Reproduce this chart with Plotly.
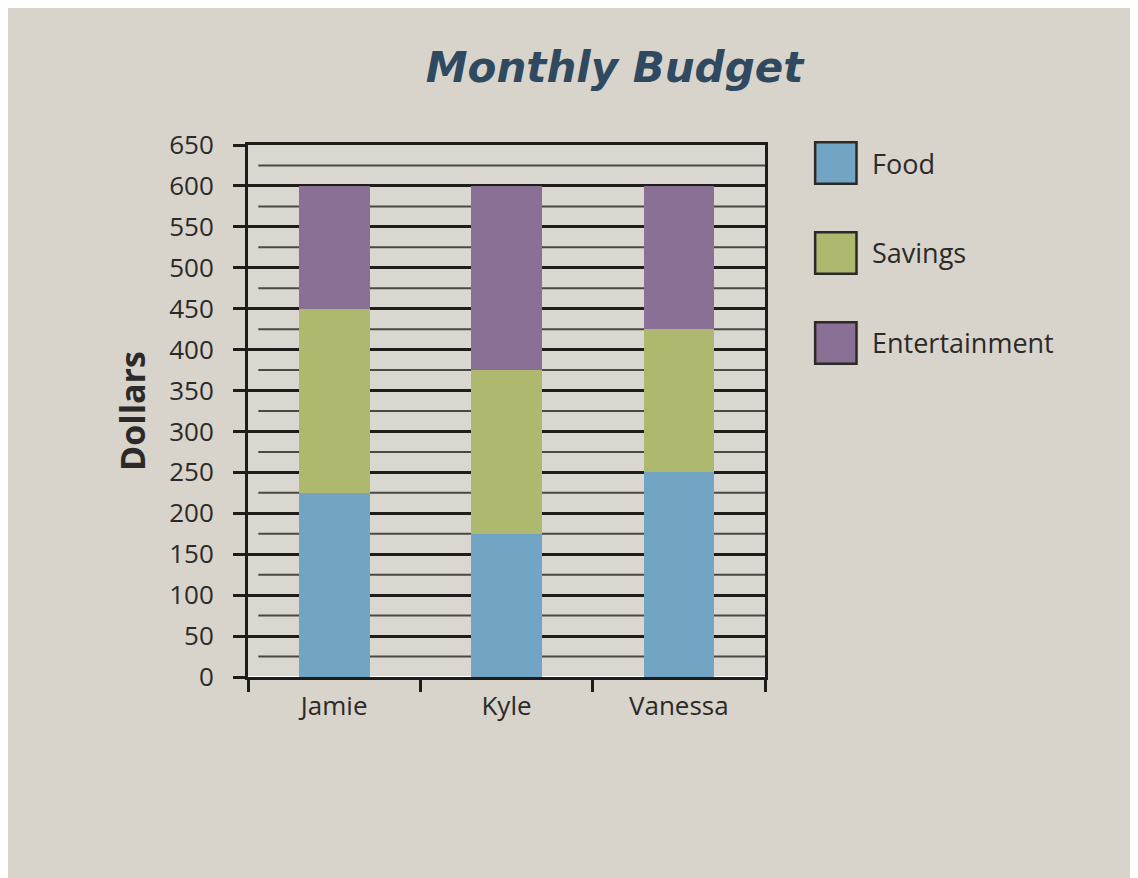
import plotly.graph_objs as go

# monthly budget per person, dollars
people = ["Jamie", "Kyle", "Vanessa"]
food = [225, 175, 250]
savings = [225, 200, 175]
entertainment = [150, 225, 175]

series_names = ["Food", "Savings", "Entertainment"]
series_colors = ["#72a5c3", "#aeb86f", "#8b7095"]

y_ticks = list(range(0, 651, 50))
minor_ticks = list(range(25, 651, 50))

fig = go.Figure()
for name, values, color in zip(series_names, [food, savings, entertainment], series_colors):
    fig.add_trace(go.Bar(
        name=name,
        x=people,
        y=values,
        marker=dict(color=color, line=dict(width=0)),
        showlegend=False
    ))

# thin grid lines between the labelled ones
for v in minor_ticks:
    fig.add_shape(type="line", xref="paper", yref="y", x0=0.02, x1=1, y0=v, y1=v,
                  line=dict(color="#4a4844", width=2), layer="below")

# hand-made legend with big square swatches
legend_rows = [0.966, 0.797, 0.628]
for name, color, yc in zip(series_names, series_colors, legend_rows):
    fig.add_shape(type="rect", xref="paper", yref="paper",
                  x0=1.097, x1=1.177, y0=yc - 0.039, y1=yc + 0.039,
                  fillcolor=color, line=dict(color="#2b2a28", width=2.5))
    fig.add_annotation(xref="paper", yref="paper", x=1.203, y=yc, text=name,
                       showarrow=False, xanchor="left", yanchor="middle",
                       font=dict(family="Open Sans", size=27, color="#2b2a28"))

fig.update_layout(
    barmode="stack",
    bargap=0.59,
    width=1138,
    height=878,
    margin=dict(l=240, r=381, t=137, b=209),
    paper_bgcolor="#d8d4cc",
    plot_bgcolor="#dad7d0",
    font=dict(family="Open Sans", color="#2b2a28"),
    title=dict(text="<b><i>Monthly Budget</i></b>", x=0.533, y=0.933,
               xanchor="center", yanchor="middle",
               font=dict(family="DejaVu Sans", size=42, color="#2f4a60")),
    xaxis=dict(
        showline=True, linecolor="#1e1d1b", linewidth=3, mirror=True,
        ticks="outside", tickson="boundaries", ticklen=12, tickwidth=3, tickcolor="#1e1d1b",
        tickfont=dict(size=26), showgrid=False, ticklabelstandoff=4
    ),
    yaxis=dict(
        range=[0, 650], tickvals=y_ticks,
        showline=True, linecolor="#1e1d1b", linewidth=3, mirror=True,
        ticks="outside", ticklen=12, tickwidth=3, tickcolor="#1e1d1b",
        showgrid=True, gridcolor="#1e1d1b", gridwidth=3,
        tickfont=dict(size=26), ticklabelstandoff=14,
        title=dict(text="<b>Dollars</b>", font=dict(size=34), standoff=14)
    )
)

fig.write_html("out.html")
